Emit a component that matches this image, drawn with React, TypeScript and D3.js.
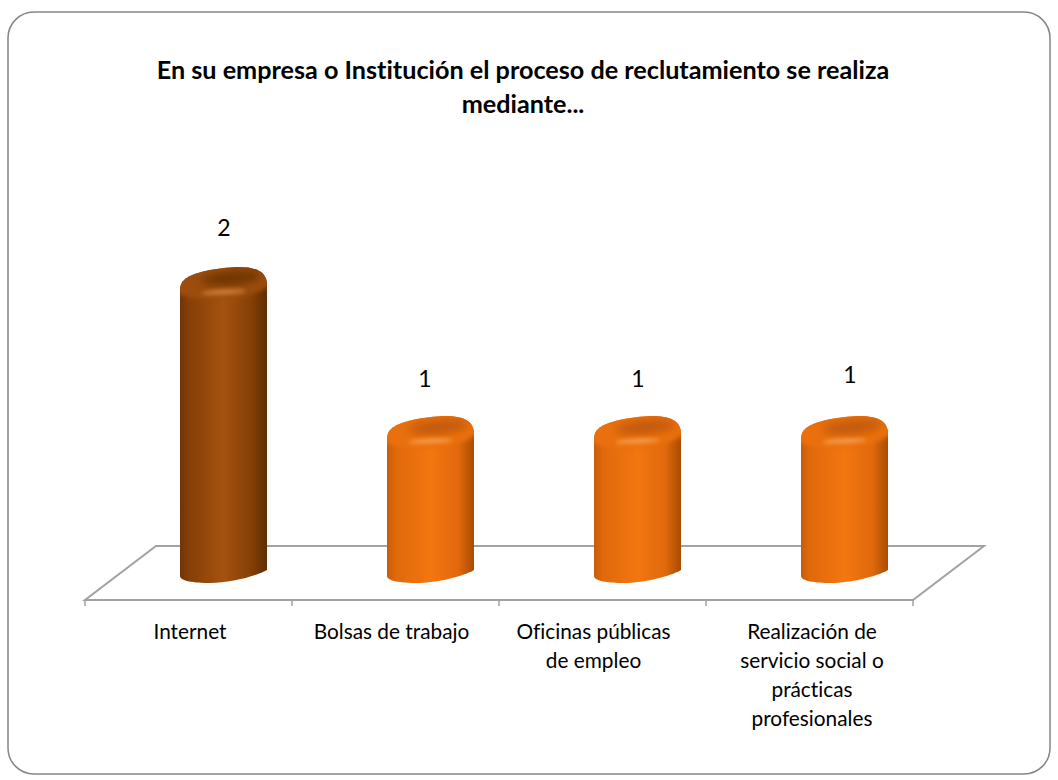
import React from "react";
import * as d3 from "d3";

const titleLines = ["En su empresa o Institución el proceso de reclutamiento se realiza", "mediante..."];
const categories = ["Internet", "Bolsas de trabajo", "Oficinas públicas de empleo", "Realización de servicio social o prácticas profesionales"];
const categoryLines = [["Internet"], ["Bolsas de trabajo"], ["Oficinas públicas", "de empleo"], ["Realización de", "servicio social o", "prácticas", "profesionales"]];
const values = [2, 1, 1, 1];
const highlighted = [true, false, false, false];

// layout nudges (not data)
const valueLabelLift = [0, -2, -2, 2];
const valueLabelShift = [0, -6, 0, 5];
const categoryLabelShift = [1.5, -4, -9, 2.5];

const x = d3.scaleBand<string>().domain(categories).range([85, 913]);
const y = d3.scaleLinear().domain([0, 2]).range([565, 267]);
const font = "Lato, Carlito, sans-serif";
const BAR_W = 87;
const BAR_SHIFT = 35;

function bodyPath(cx: number, top: number) {
  const l = cx - BAR_W / 2, r = cx + BAR_W / 2;
  const base = y(0);
  const p = d3.path();
  p.moveTo(l, top + 23);
  p.bezierCurveTo(l, top + 12, l + 10, top + 7, l + 30, top + 3);
  p.bezierCurveTo(l + 42, top + 1, l + 50, top, l + 59, top);
  p.bezierCurveTo(l + 78, top, r, top + 6, r, top + 18);
  p.lineTo(r, base + 5);
  p.bezierCurveTo(r - 10, base + 11, l + 50, base + 18, l + 30, base + 18);
  p.bezierCurveTo(l + 14, base + 18, l, base + 16, l, base + 11);
  p.closePath();
  return p.toString();
}

function Grad({ id, c }: { id: string; c: string[] }) {
  return (
    <linearGradient id={id} x1="0" x2="1" y1="0" y2="0">
      <stop offset="0" stopColor={c[0]} />
      <stop offset="0.1" stopColor={c[1]} />
      <stop offset="0.5" stopColor={c[2]} />
      <stop offset="0.82" stopColor={c[1]} />
      <stop offset="1" stopColor={c[3]} />
    </linearGradient>
  );
}

export default function App() {
  return (
    <svg width={1058} height={780} style={{ position: "absolute", left: 0, top: 0, fontVariantLigatures: "none" }} fontFamily={font}>
      <defs>
        <Grad id="dark" c={["#703505", "#853f06", "#a5520f", "#5f2e02"]} />
        <Grad id="orange" c={["#c95c0a", "#e0690c", "#f37610", "#a94c03"]} />
        <filter id="soft" x="-50%" y="-100%" width="200%" height="300%"><feGaussianBlur stdDeviation="4" /></filter>
        <filter id="softer" x="-50%" y="-100%" width="200%" height="300%"><feGaussianBlur stdDeviation="2.2" /></filter>
      </defs>
      <rect x={8} y={12} width={1042} height={762} rx={26} fill="#fff" stroke="#858585" strokeWidth={1.5} />
      {titleLines.map((t, i) => (
        <text key={t} x={523} y={79 + i * 34} textAnchor="middle" fontSize={25.2} fontWeight={700} fill="#000">{t}</text>
      ))}
      <path d={(() => {
        const p = d3.path();
        p.moveTo(85, 600); p.lineTo(913, 600); p.lineTo(984, 546); p.lineTo(156, 546); p.closePath();
        return p.toString();
      })()} fill="none" stroke="#a2a2a2" strokeWidth={2} />
      {[...categories.map((c) => x(c)!), 913].map((tx) => (
        <line key={tx} x1={tx} x2={tx} y1={600} y2={606} stroke="#a2a2a2" strokeWidth={1.5} />
      ))}
      {categories.map((c, i) => {
        const cx = x(c)! + x.bandwidth() / 2 + BAR_SHIFT;
        const top = y(values[i]);
        const dark = highlighted[i];
        const d = bodyPath(cx, top);
        return (
          <g key={c}>
            <clipPath id={`clip${i}`}><path d={d} /></clipPath>
            <path d={d} fill={`url(#${dark ? "dark" : "orange"})`} />
            <g clipPath={`url(#clip${i})`}>
              <ellipse cx={cx} cy={top + 16} rx={50} ry={16} fill={dark ? "#9c4d0c" : "#ea700f"} filter="url(#softer)" transform={`rotate(-5 ${cx} ${top + 16})`} />
              <ellipse cx={cx + 8} cy={top + 11} rx={30} ry={7} fill={dark ? "#6f3503" : "#c25a08"} filter="url(#soft)" transform={`rotate(-5 ${cx + 8} ${top + 11})`} />
              <ellipse cx={cx} cy={top + 25} rx={22} ry={2.5} fill={dark ? "#d98a45" : "#fba659"} opacity={0.85} filter="url(#softer)" transform={`rotate(-3 ${cx} ${top + 25})`} />
            </g>
            <text x={cx + 0.5 + valueLabelShift[i]} y={top - 31 - valueLabelLift[i]} textAnchor="middle" fontSize={23} fill="#000">{values[i]}</text>
          </g>
        );
      })}
      {categories.map((c, i) => (
        <g key={c}>
          {categoryLines[i].map((t, j) => (
            <text key={t} x={x(c)! + x.bandwidth() / 2 + categoryLabelShift[i]} y={639 + j * 29} textAnchor="middle" fontSize={20.8} fill="#000">{t}</text>
          ))}
        </g>
      ))}
    </svg>
  );
}
